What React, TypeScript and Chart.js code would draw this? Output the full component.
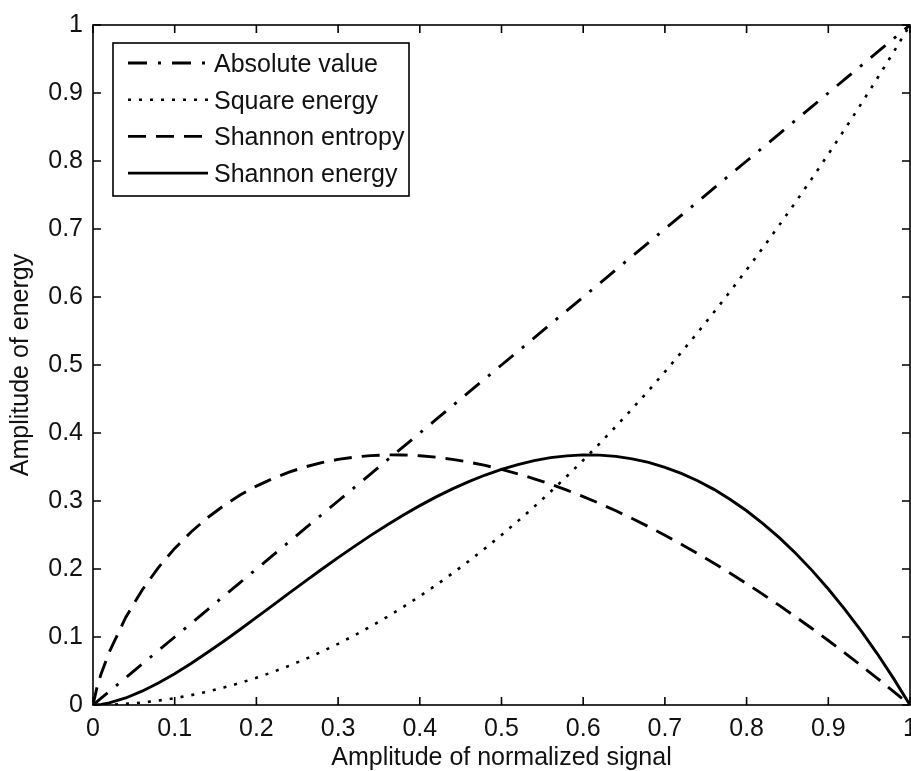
import React, { useEffect, useRef } from 'react';
import { Chart, registerables } from 'chart.js';

Chart.register(...registerables);

// Normalized signal amplitude (x axis)
const signalAmplitude = [
  0, 0.005, 0.01, 0.02, 0.04, 0.06, 0.08, 0.1, 0.12, 0.14, 0.16, 0.18, 0.2, 0.22, 0.24, 0.26, 0.28,
  0.3, 0.32, 0.34, 0.36, 0.38, 0.4, 0.42, 0.44, 0.46, 0.48, 0.5, 0.52, 0.54, 0.56, 0.58, 0.6,
  0.62, 0.64, 0.66, 0.68, 0.7, 0.72, 0.74, 0.76, 0.78, 0.8, 0.82, 0.84, 0.86, 0.88, 0.9, 0.92,
  0.94, 0.96, 0.98, 1,
];

const absoluteValue = [
  0, 0.005, 0.01, 0.02, 0.04, 0.06, 0.08, 0.1, 0.12, 0.14, 0.16, 0.18, 0.2, 0.22, 0.24, 0.26, 0.28,
  0.3, 0.32, 0.34, 0.36, 0.38, 0.4, 0.42, 0.44, 0.46, 0.48, 0.5, 0.52, 0.54, 0.56, 0.58, 0.6,
  0.62, 0.64, 0.66, 0.68, 0.7, 0.72, 0.74, 0.76, 0.78, 0.8, 0.82, 0.84, 0.86, 0.88, 0.9, 0.92,
  0.94, 0.96, 0.98, 1,
];

const squareEnergy = [
  0, 0.00003, 0.0001, 0.0004, 0.0016, 0.0036, 0.0064, 0.01, 0.0144, 0.0196, 0.0256, 0.0324, 0.04,
  0.0484, 0.0576, 0.0676, 0.0784, 0.09, 0.1024, 0.1156, 0.1296, 0.1444, 0.16, 0.1764, 0.1936,
  0.2116, 0.2304, 0.25, 0.2704, 0.2916, 0.3136, 0.3364, 0.36, 0.3844, 0.4096, 0.4356, 0.4624,
  0.49, 0.5184, 0.5476, 0.5776, 0.6084, 0.64, 0.6724, 0.7056, 0.7396, 0.7744, 0.81, 0.8464,
  0.8836, 0.9216, 0.9604, 1,
];

const shannonEntropy = [
  0, 0.0265, 0.0461, 0.0782, 0.1288, 0.1688, 0.2021, 0.2303, 0.2544, 0.2753, 0.2932, 0.3087,
  0.3219, 0.3331, 0.3425, 0.3502, 0.3564, 0.3612, 0.3646, 0.3668, 0.3678, 0.3677, 0.3665,
  0.3644, 0.3612, 0.3572, 0.3523, 0.3466, 0.34, 0.3327, 0.3247, 0.3159, 0.3065, 0.2964, 0.2856,
  0.2742, 0.2623, 0.2497, 0.2365, 0.2228, 0.2086, 0.1938, 0.1785, 0.1627, 0.1465, 0.1297,
  0.1125, 0.0948, 0.0767, 0.0582, 0.0392, 0.0198, 0,
];

const shannonEnergy = [
  0, 0.0003, 0.0009, 0.0031, 0.0103, 0.0203, 0.0323, 0.0461, 0.0611, 0.0771, 0.0938, 0.1111,
  0.1288, 0.1466, 0.1644, 0.1821, 0.1996, 0.2167, 0.2333, 0.2494, 0.2648, 0.2795, 0.2932,
  0.3061, 0.3179, 0.3286, 0.3382, 0.3466, 0.3536, 0.3593, 0.3637, 0.3664, 0.3678, 0.3675,
  0.3656, 0.3619, 0.3567, 0.3496, 0.3406, 0.3297, 0.3171, 0.3023, 0.2856, 0.2668, 0.2461,
  0.2231, 0.198, 0.1706, 0.1411, 0.1094, 0.0753, 0.0388, 0,
];

const seriesLabels = ['Absolute value', 'Square energy', 'Shannon entropy', 'Shannon energy'];
const seriesDashes: number[][] = [[19, 11, 3, 11], [3, 8], [18, 10], []];

const xTickLabels = ['0', '0.1', '0.2', '0.3', '0.4', '0.5', '0.6', '0.7', '0.8', '0.9', '1'];
const yTickLabels = ['0', '0.1', '0.2', '0.3', '0.4', '0.5', '0.6', '0.7', '0.8', '0.9', '1'];

const xTitle = 'Amplitude of normalized signal';
const yTitle = 'Amplitude of energy';

const FONT = "'Liberation Sans', Arial, Helvetica, sans-serif";
const FONT_SIZE = 25;
const INK = '#111';

const toPoints = (ys: number[]) => signalAmplitude.map((x, i) => ({ x, y: ys[i] }));

// Draws the closed axes box, inward ticks on all four sides and the boxed legend.
const matlabFrame = {
  id: 'matlabFrame',
  afterDraw(chart: any) {
    const { ctx, chartArea } = chart;
    const { left, right, top, bottom } = chartArea;
    const xs = chart.scales.x;
    const ys = chart.scales.y;
    const tick = 8;

    ctx.save();
    ctx.strokeStyle = '#000';
    ctx.lineWidth = 1.6;
    ctx.setLineDash([]);
    ctx.strokeRect(left, top, right - left, bottom - top);

    ctx.beginPath();
    xs.ticks.forEach((t: any) => {
      const px = xs.getPixelForValue(t.value);
      ctx.moveTo(px, bottom);
      ctx.lineTo(px, bottom - tick);
      ctx.moveTo(px, top);
      ctx.lineTo(px, top + tick);
    });
    ys.ticks.forEach((t: any) => {
      const py = ys.getPixelForValue(t.value);
      ctx.moveTo(left, py);
      ctx.lineTo(left + tick, py);
      ctx.moveTo(right, py);
      ctx.lineTo(right - tick, py);
    });
    ctx.stroke();

    // legend
    const bx = left + 20;
    const by = top + 18;
    const bw = 296;
    const bh = 153;
    ctx.fillStyle = '#fff';
    ctx.fillRect(bx, by, bw, bh);
    ctx.lineWidth = 1.6;
    ctx.strokeRect(bx, by, bw, bh);

    ctx.font = `${FONT_SIZE}px ${FONT}`;
    ctx.textBaseline = 'middle';
    ctx.textAlign = 'left';
    chart.data.datasets.forEach((ds: any, i: number) => {
      const ly = by + 20 + i * 36.7;
      ctx.beginPath();
      ctx.setLineDash(ds.borderDash || []);
      ctx.lineWidth = ds.borderWidth;
      ctx.strokeStyle = '#000';
      ctx.moveTo(bx + 15, ly);
      ctx.lineTo(bx + 95, ly);
      ctx.stroke();
      ctx.setLineDash([]);
      ctx.fillStyle = INK;
      ctx.fillText(ds.label, bx + 101, ly + 2);
    });
    ctx.restore();
  },
};

export default function App() {
  const canvasRef = useRef<HTMLCanvasElement | null>(null);

  useEffect(() => {
    document.body.style.margin = '0';
    const canvas = canvasRef.current;
    if (!canvas) return;

    const seriesValues = [absoluteValue, squareEnergy, shannonEntropy, shannonEnergy];

    const chart = new Chart(canvas, {
      type: 'scatter',
      data: {
        datasets: seriesValues.map((vals, i) => ({
          label: seriesLabels[i],
          data: toPoints(vals),
          showLine: true,
          borderColor: '#000',
          backgroundColor: '#000',
          borderWidth: i === 1 ? 2.6 : 2.9,
          borderDash: seriesDashes[i],
          pointRadius: 0,
          pointHoverRadius: 0,
          fill: false,
          tension: 0,
        })),
      },
      options: {
        responsive: false,
        animation: false,
        events: [],
        layout: { padding: { top: 24, right: 20, left: 0, bottom: 0 } },
        plugins: {
          legend: { display: false },
          tooltip: { enabled: false },
        },
        scales: {
          x: {
            type: 'linear',
            min: 0,
            max: 1,
            ticks: {
              stepSize: 0.1,
              padding: 9,
              color: INK,
              font: { size: FONT_SIZE, family: FONT },
              maxRotation: 0,
              autoSkip: false,
              callback: (_v: any, i: number) => xTickLabels[i],
            },
            grid: { display: false, drawTicks: false },
            border: { display: false },
            title: {
              display: true,
              text: xTitle,
              color: INK,
              font: { size: FONT_SIZE, family: FONT, lineHeight: 1 },
              padding: { top: 0, bottom: 0 },
            },
            afterFit: (s: any) => {
              s.height = 66;
            },
          },
          y: {
            type: 'linear',
            min: 0,
            max: 1,
            ticks: {
              stepSize: 0.1,
              padding: 10,
              color: INK,
              font: { size: FONT_SIZE, family: FONT },
              autoSkip: false,
              callback: (_v: any, i: number) => yTickLabels[i],
            },
            grid: { display: false, drawTicks: false },
            border: { display: false },
            title: {
              display: true,
              text: yTitle,
              color: INK,
              font: { size: FONT_SIZE, family: FONT, lineHeight: 1 },
              padding: { top: 9, bottom: 0 },
            },
            afterFit: (s: any) => {
              s.width = 93;
            },
          },
        },
      },
      plugins: [matlabFrame],
    });

    return () => chart.destroy();
  }, []);

  return (
    <div style={{ width: 911, height: 771, overflow: 'hidden', background: '#fff' }}>
      <canvas ref={canvasRef} width={930} height={771} style={{ display: 'block' }} />
    </div>
  );
}
